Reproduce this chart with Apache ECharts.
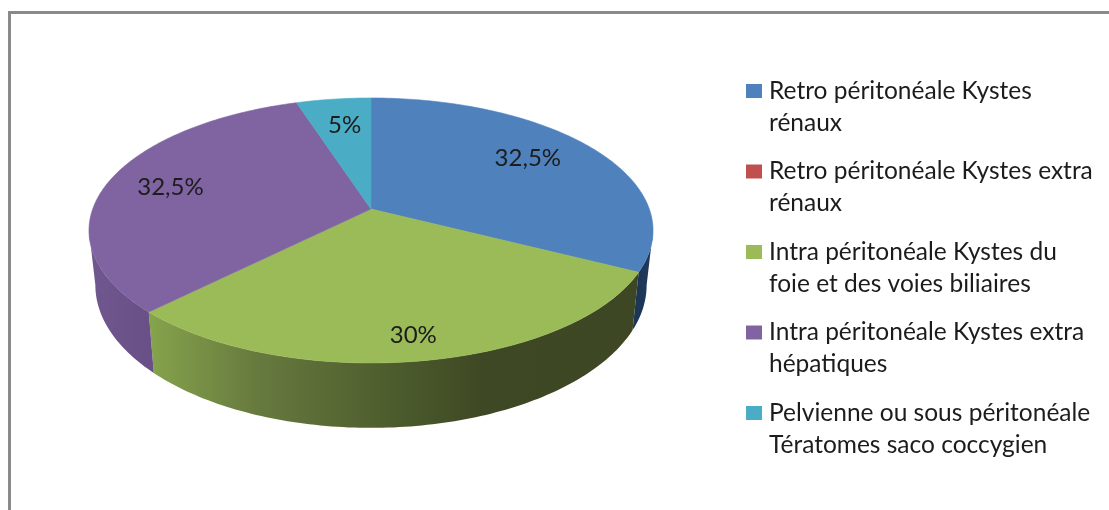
<!DOCTYPE html>
<html>
<head>
<meta charset="utf-8">
<title>Kystes</title>
<style>
  html, body { margin: 0; padding: 0; background: #fff; }
  #main { width: 1109px; height: 510px; }
</style>
<script src="https://cdn.jsdelivr.net/npm/echarts@6/dist/echarts.min.js"></script>
</head>
<body>
<div id="main"></div>
<script>
const categories = [
  'Retro péritonéale Kystes\nrénaux',
  'Retro péritonéale Kystes extra\nrénaux',
  'Intra péritonéale Kystes du\nfoie et des voies biliaires',
  'Intra péritonéale Kystes extra\nhépatiques',
  'Pelvienne ou sous péritonéale\nTératomes saco coccygien'
];
const values = [32.5, 0, 30, 32.5, 5];
const topColors = ['#4f81bd', '#c0504d', '#9bbb59', '#8064a2', '#4bacc6'];
// side wall shading, left to right
const wallStops = [
  [[0, '#1c3554'], [1, '#1f3a5c']],
  [[0, '#8a3d3a'], [1, '#8a3d3a']],
  [[0, '#86a34c'], [0.22, '#677a3e'], [0.5, '#4c5c2d'], [0.68, '#3f4824'], [1, '#3d4723']],
  [[0, '#70578f'], [1, '#684f85']],
  [[0, '#3a8aa0'], [1, '#3a8aa0']]
];
// label sits at 70% of the radius, then these small shifts
const labelShift = [[0, -6], [0, 0], [8, 26], [-16, -1], [1, -4]];

const total = values.reduce((a, b) => a + b, 0);
const K = 0.162; // perspective
const topRim = { cx: 371, cy: 209, f: 278.3, g: 129 };
const lowRim = { cx: 371, cy: 262, f: 272, g: 139 };
const EDGE = Math.acos(-K) * 180 / Math.PI; // where the wall silhouette ends

function project(rim, deg, r) {
  const a = deg * Math.PI / 180;
  const X = r * Math.sin(a);
  const Y = r * Math.cos(a);
  const w = 1 + K * Y;
  return [rim.cx + rim.f * X / w, rim.cy - rim.g * Y / w];
}

function arc(rim, from, to) {
  const pts = [];
  const n = Math.max(2, Math.ceil(Math.abs(to - from)));
  for (let i = 0; i <= n; i++) {
    pts.push(project(rim, from + (to - from) * i / n, 1));
  }
  return pts;
}

function renderSlice(params, api) {
  const i = params.seriesIndex;
  const val = api.value(0);
  if (!val) return { type: 'group', children: [] };
  let before = 0;
  for (let j = 0; j < i; j++) before += values[j];
  const start = before / total * 360;
  const end = (before + val) / total * 360;
  const children = [];

  const wallFrom = Math.max(start, EDGE);
  const wallTo = Math.min(end, 360 - EDGE);
  if (wallTo > wallFrom) {
    const wallPts = arc(topRim, wallFrom, wallTo).concat(arc(lowRim, wallTo, wallFrom));
    children.push({
      type: 'polygon',
      shape: { points: wallPts },
      style: { fill: new echarts.graphic.LinearGradient(0, 0, 1, 0, wallStops[i].map(s => ({ offset: s[0], color: s[1] }))) },
      z2: 1
    });
  }

  children.push({
    type: 'polygon',
    shape: { points: [project(topRim, 0, 0)].concat(arc(topRim, start, end)) },
    style: { fill: topColors[i], stroke: topColors[i], lineWidth: 0.6 },
    z2: 2
  });

  const p = project(topRim, (start + end) / 2, 0.7);
  children.push({
    type: 'text',
    x: p[0] + labelShift[i][0],
    y: p[1] + labelShift[i][1],
    style: {
      text: String(val).replace('.', ',') + '%',
      font: '24px Lato',
      fill: '#1c1c1c',
      align: 'center',
      verticalAlign: 'middle'
    },
    z2: 3
  });
  return { type: 'group', children: children };
}

const chart = echarts.init(document.getElementById('main'));
chart.setOption({
  animation: false,
  backgroundColor: '#fff',
  graphic: [{
    type: 'rect',
    shape: { x: 9.5, y: 12.5, width: 1300, height: 700 },
    style: { fill: 'none', stroke: '#8a8a8a', lineWidth: 3 },
    silent: true
  }],
  legend: {
    orient: 'vertical',
    left: 746,
    top: 42,
    padding: 0,
    icon: 'rect',
    itemWidth: 16,
    itemHeight: 14,
    itemGap: -17.5,
    selectedMode: false,
    formatter: name => '\n' + name,
    textStyle: { fontFamily: 'Lato', fontSize: 24.5, lineHeight: 32, color: '#1c1c1c', padding: [2, 0, 0, 2] },
    data: categories
  },
  series: categories.map((name, i) => ({
    type: 'custom',
    name: name,
    coordinateSystem: 'none',
    silent: true,
    itemStyle: { color: topColors[i] },
    renderItem: renderSlice,
    data: [[values[i]]]
  }))
});
</script>
</body>
</html>
